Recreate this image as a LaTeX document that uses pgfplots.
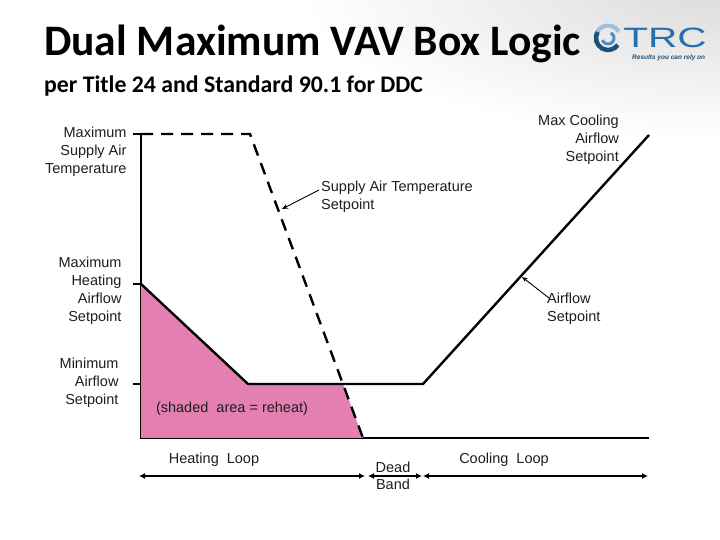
\documentclass[border=0pt]{standalone}
\usepackage{fontspec}
\setmainfont{Liberation Sans}
\newfontfamily\carlito{Carlito}
\usepackage{pgfplots}
\pgfplotsset{compat=1.18}
\usetikzlibrary{arrows.meta}
\definecolor{reheat}{RGB}{228,127,178}
\definecolor{trcblue}{RGB}{38,112,176}
\definecolor{trcdark}{RGB}{30,80,120}
\definecolor{txt}{RGB}{30,30,30}
\newcommand{\lbl}{\fontsize{14.5bp}{18bp}\selectfont}
\begin{document}
\begin{tikzpicture}[x=1bp,y=1bp]
\useasboundingbox (0,0) rectangle (720,540);
\shade[inner color=black!14, outer color=white] (720,550) ellipse (420 and 150);
\node[anchor=base west, inner sep=0, font=\carlito\bfseries\fontsize{43.5bp}{50bp}\selectfont] at (44,484) {Dual Maximum VAV Box Logic};
\node[anchor=base west, inner sep=0, font=\carlito\bfseries\fontsize{23.8bp}{28bp}\selectfont] at (44,447) {per Title 24 and Standard 90.1 for DDC};
% logo
\draw[trcblue!45, line width=4bp] ([shift={(30:12.5)}]608,502) arc (30:170:12.5);
\draw[trcdark, line width=4.5bp] ([shift={(150:12)}]608,502) arc (150:325:12);
\draw[trcblue!80, line width=3bp] ([shift={(200:6)}]608,502) arc (200:420:6);
\node[anchor=base west, inner sep=0, font=\fontsize{28bp}{28bp}\selectfont, text=trcblue, xscale=1.45] at (623,492) {TRC};
\node[anchor=base west, inner sep=0, font=\fontsize{6.5bp}{6.5bp}\selectfont\itshape\bfseries, text=trcdark] at (632,480) {Results you can rely on};
\begin{axis}[
  at={(141bp,102bp)}, anchor=south west,
  scale only axis, width=507bp, height=304bp,
  xmin=0, xmax=507, ymin=0, ymax=304,
  axis x line=bottom, axis y line=left,
  axis line style={-, line width=2.4bp, black, line cap=rect},
  xtick=\empty, ytick={54,154,304}, yticklabels={,,},
  tick align=outside, major tick length=8bp,
  tick style={black, line width=2.4bp},
  clip=false,
]
\addplot[fill=reheat, draw=none] coordinates {(0,0) (0,154) (107,54) (202,54) (222,0)} -- cycle;
\addplot[black, line width=2.4bp, dash pattern=on 12bp off 8bp] coordinates {(0,304) (109,304) (222,0)};
\addplot[black, line width=2.4bp] coordinates {(0,154) (107,54) (282,54) (508,303)};
% axis labels
\node[align=right, anchor=east, font=\lbl, text=txt] at (axis cs:-11,286) {Maximum\\Supply Air\\Temperature};
\node[align=right, anchor=east, font=\lbl, text=txt] at (axis cs:-16,147.5) {Maximum\\Heating\\Airflow\\Setpoint};
\node[align=right, anchor=east, font=\lbl, text=txt] at (axis cs:-19,55) {Minimum\\Airflow\\Setpoint};
% annotations
\node[align=left, anchor=west, font=\lbl, text=txt, inner sep=0] at (axis cs:180,241) {Supply Air Temperature\\Setpoint};
\draw[-{Stealth[length=6bp,width=5bp]}, line width=0.9bp] (axis cs:178,248) -- (axis cs:141,229);
\node[align=right, anchor=east, font=\lbl, text=txt, inner sep=0] at (axis cs:478,298) {Max Cooling\\Airflow\\Setpoint};
\node[align=left, anchor=west, font=\lbl, text=txt, inner sep=0] at (axis cs:406,129) {Airflow\\Setpoint};
\draw[-{Stealth[length=6bp,width=5bp]}, line width=0.9bp] (axis cs:408,140) -- (axis cs:381,161);
\node[font=\lbl, text=txt] at (axis cs:91,29) {(shaded\ \ area = reheat)};
% loops
\draw[{Latex[length=6bp,width=6bp]}-{Latex[length=6bp,width=6bp]}, line width=2.4bp] (axis cs:-2,-38) -- (axis cs:224,-38);
\draw[{Latex[length=6bp,width=6bp]}-{Latex[length=6bp,width=6bp]}, line width=2.4bp] (axis cs:227,-38) -- (axis cs:281,-38);
\draw[{Latex[length=6bp,width=6bp]}-{Latex[length=6bp,width=6bp]}, line width=2.4bp] (axis cs:282,-38) -- (axis cs:507,-38);
\node[font=\lbl, text=txt] at (axis cs:73,-22) {Heating\ \ Loop};
\node[font=\lbl, text=txt] at (axis cs:363,-22) {Cooling\ \ Loop};
\node[font=\lbl, text=txt] at (axis cs:252,-29) {Dead};
\node[font=\lbl, text=txt] at (axis cs:252,-46) {Band};
\end{axis}
\end{tikzpicture}
\end{document}
